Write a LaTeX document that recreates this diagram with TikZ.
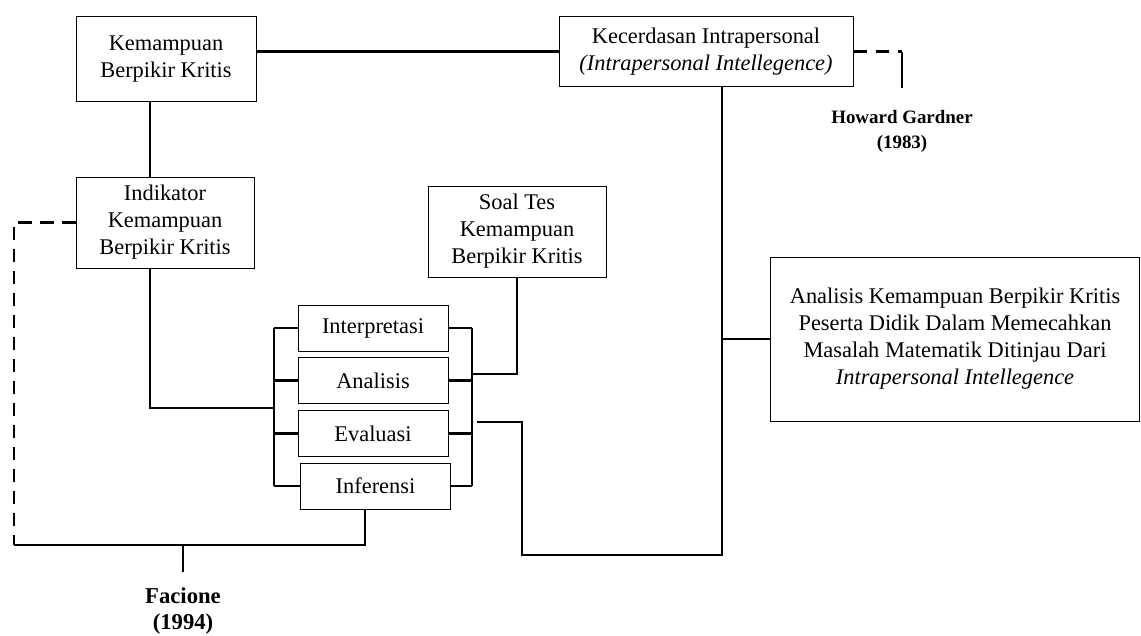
\documentclass[tikz,border=0pt]{standalone}
\usepackage{fontspec}
\setmainfont{Liberation Serif}
\usetikzlibrary{positioning}

\begin{document}
\begin{tikzpicture}[x=0.75pt,y=0.75pt,yscale=-1,xscale=1,
  box/.style={draw, line width=0.75pt, inner sep=0pt, align=center, font=\fontsize{16.8}{20.2}\selectfont},
  conn/.style={line width=2.2pt},
  brk/.style={line width=1.6pt},
  dsh/.style={line width=2.2pt, dash pattern=on 10pt off 6.5pt},
  src/.style={align=center, inner sep=0.75pt, font=\fontsize{14.2}{18.8}\selectfont\bfseries}]
\useasboundingbox (0,0) rectangle (1141,635);

% Boxes
\node [box, minimum width=135pt, minimum height=63pt] (kbk) at (166,59) {Kemampuan\\Berpikir Kritis};
\node [box, minimum width=220.5pt, minimum height=51.75pt] (ki) at (706,51.5) {Kecerdasan Intrapersonal\\\textit{(Intrapersonal Intellegence)}};
\node [box, minimum width=133.5pt, minimum height=68.25pt] (ikbk) at (165,222.5) {Indikator\\Kemampuan\\Berpikir Kritis};
\node [box, minimum width=133.5pt, minimum height=68.25pt] (soal) at (517,231.5) {Soal Tes\\Kemampuan\\Berpikir Kritis};
\node [box, minimum width=277pt, minimum height=123pt] (anls) at (955,339) {Analisis Kemampuan Berpikir Kritis\\Peserta Didik Dalam Memecahkan\\Masalah Matematik Ditinjau Dari\\\textit{Intrapersonal Intellegence}};
\node [box, minimum width=112.5pt, minimum height=34.5pt] (interp) at (373,328) {Interpretasi};
\node [box, minimum width=112.5pt, minimum height=34pt] (analisis) at (373,380.5) {Analisis};
\node [box, minimum width=112.5pt, minimum height=34pt] (evaluasi) at (373,433.5) {Evaluasi};
\node [box, minimum width=113pt, minimum height=34.5pt] (inferensi) at (375.5,486) {Inferensi};

% Text Node
\node [src, font=\fontsize{17}{19.5}\selectfont\bfseries] (fac) at (183,611) {Facione\\(1994)};
\node [src] (hg) at (902,131) {Howard Gardner\\(1983)};

% helper points
\coordinate (vk) at (150,0);
\coordinate (lb) at (274,0);
\coordinate (rb) at (472,0);
\coordinate (lin) at (274,408);
\coordinate (rout) at (472,374);
\coordinate (rev) at (477,422);
\coordinate (bl) at (522,555);
\coordinate (br) at (722,555);
\coordinate (fv) at (365,0);
\coordinate (fl) at (14,545);
\coordinate (ft) at (183,545);
\coordinate (fb) at (183,572);
\coordinate (ga) at (902,55);
\coordinate (gt) at (902,52);
\coordinate (gb) at (902,88);

% Straight Lines
\draw [conn] (ki.west) -- (ki.west -| kbk.east);
\draw [conn] (kbk.south -| vk) -- (ikbk.north -| vk);
\draw [conn] (ikbk.south -| vk) |- (lin);

% brackets
\foreach \b in {interp,analisis,evaluasi,inferensi} {
  \draw [brk] (\b.west) -- (\b.west -| lb);
  \draw [brk] (\b.east) -- (\b.east -| rb);
}
\draw [brk] (interp.west -| lb) -- (inferensi.west -| lb);
\draw [brk] (interp.east -| rb) -- (inferensi.east -| rb);

\draw [conn] (rout) -| (soal.south);
\draw [conn] (rev) -| (bl) -- (br) -- (br |- ki.south);
\draw [conn] (anls.west) -- (anls.west -| br);

% Facione
\draw [conn] (inferensi.south -| fv) |- (fl);
\draw [dsh] (ikbk.west) -| (fl);
\draw [conn] (ft) -- (fb);

% Howard Gardner
\draw [dsh] (ki.east) -- (ki.east -| ga);
\draw [conn] (gt) -- (gb);

\end{tikzpicture}
\end{document}
